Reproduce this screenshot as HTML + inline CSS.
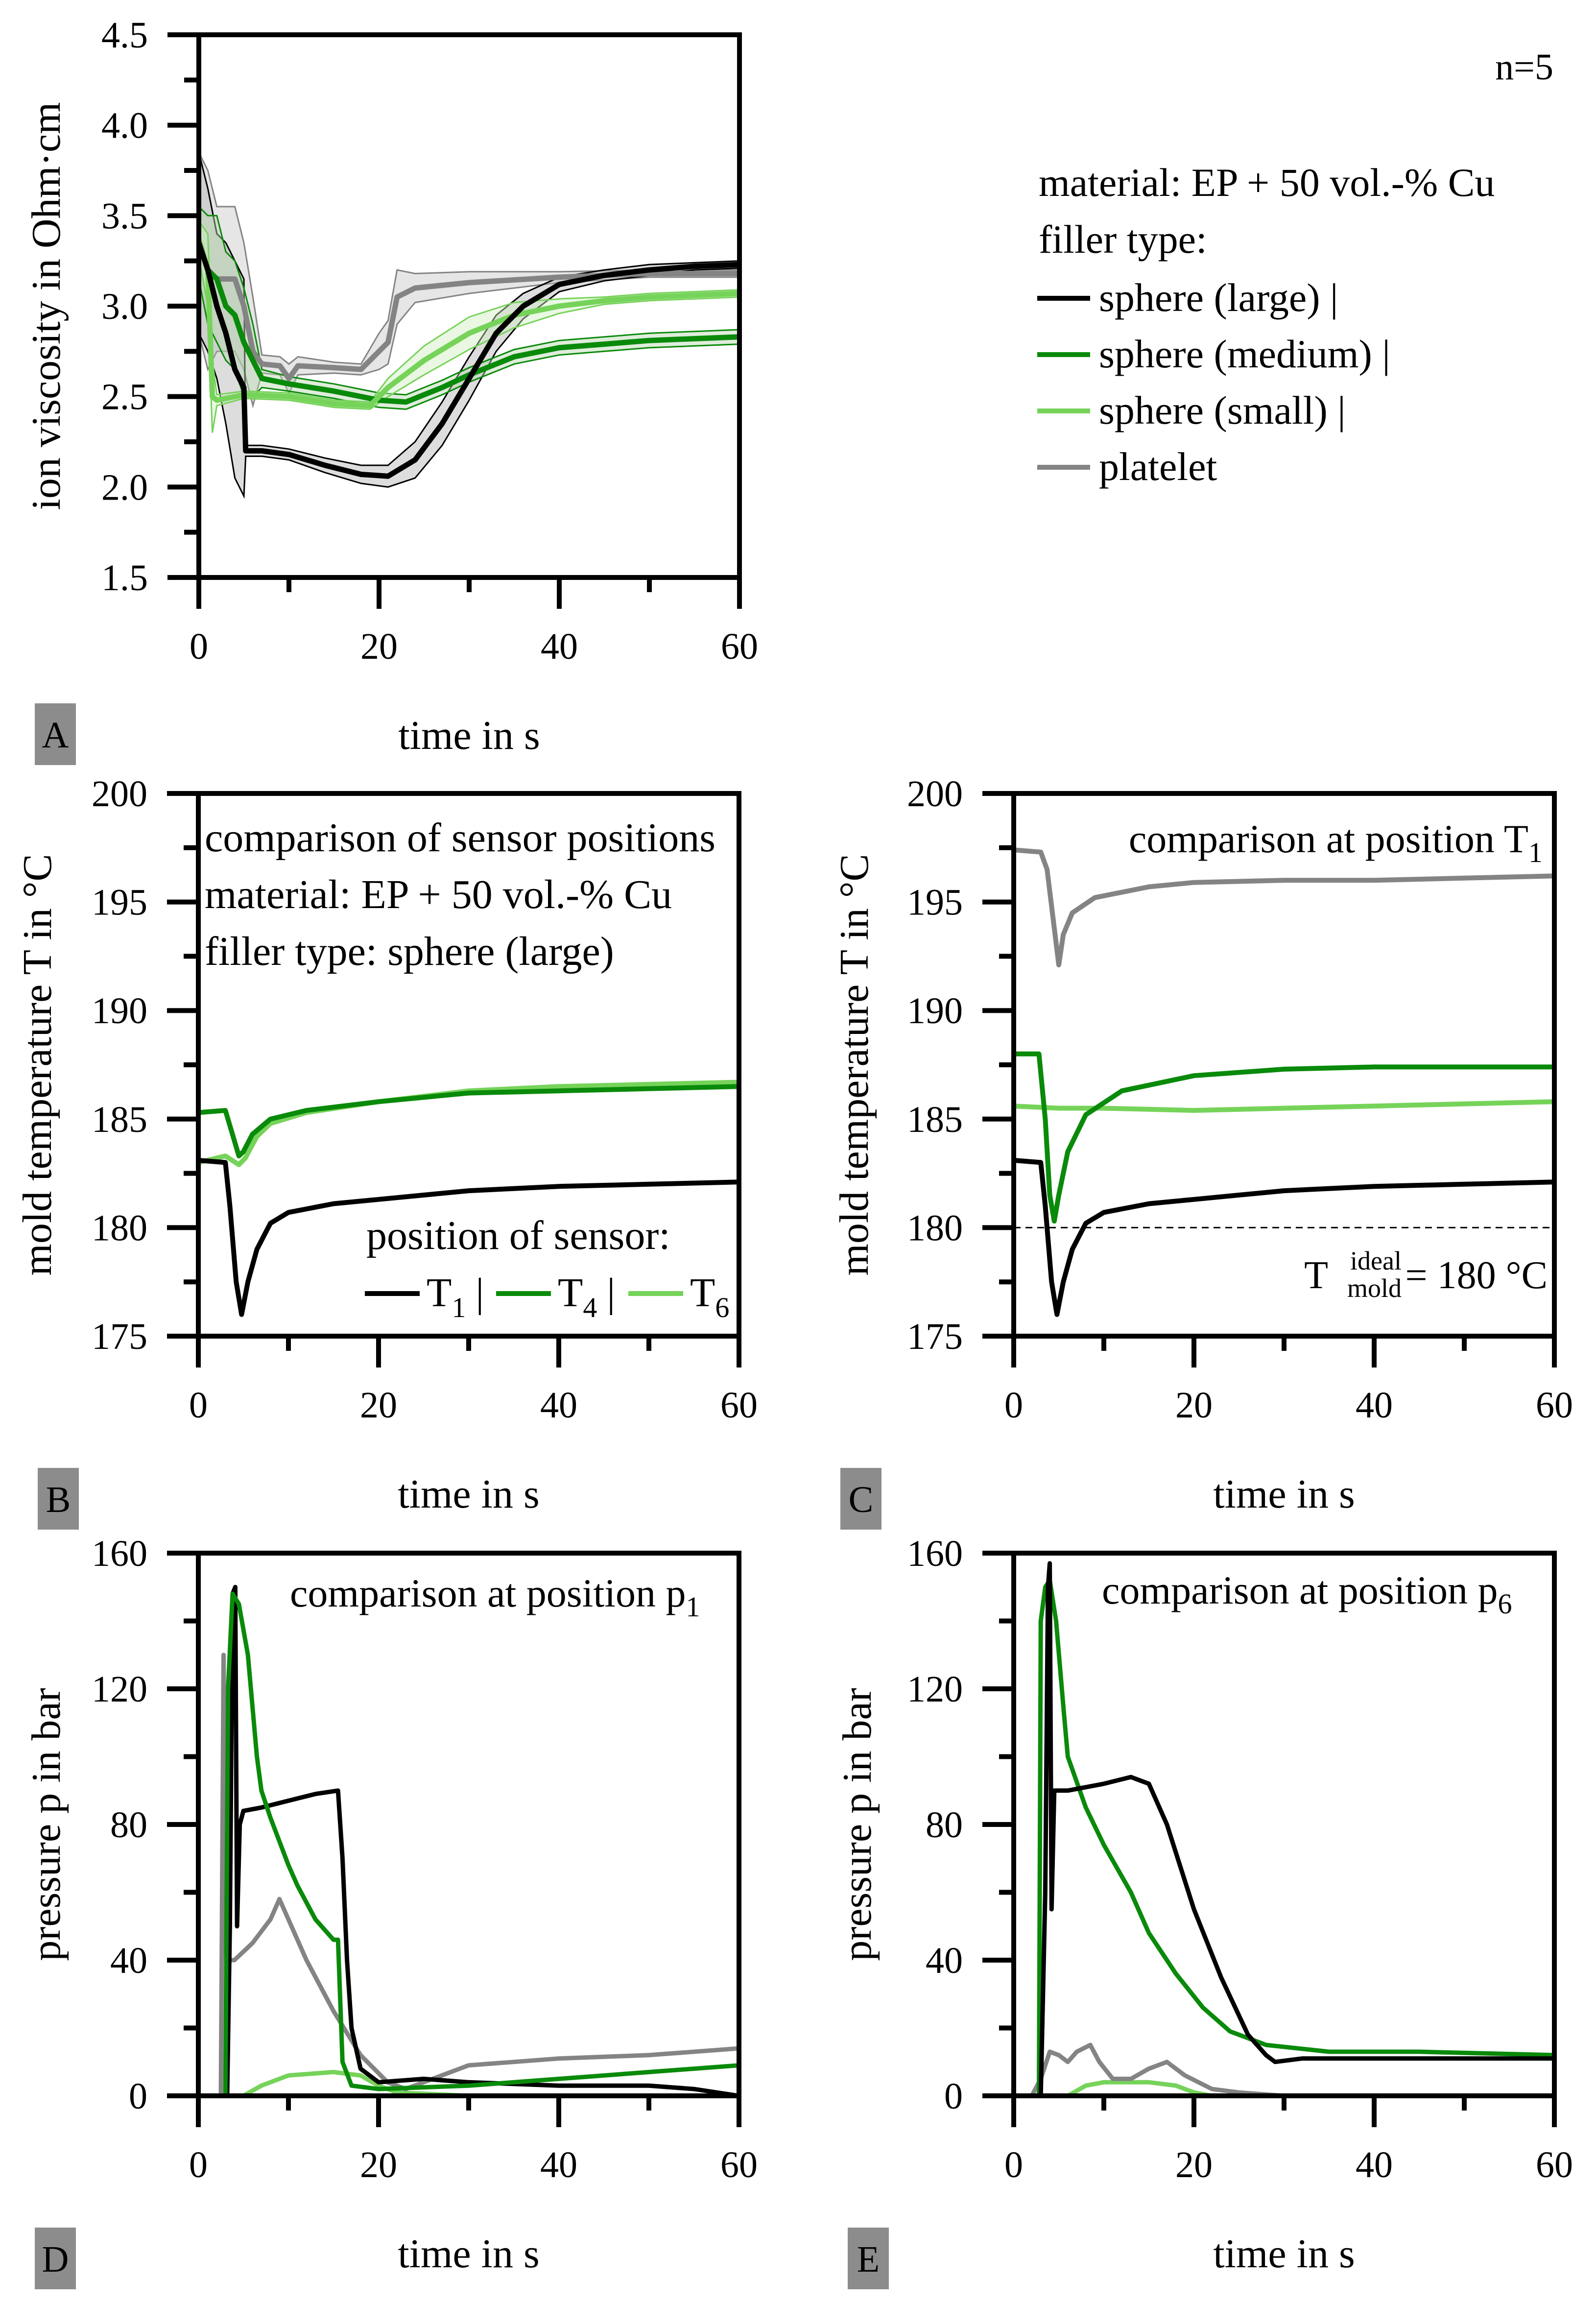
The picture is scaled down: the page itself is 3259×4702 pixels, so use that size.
<!DOCTYPE html>
<html><head><meta charset="utf-8"><style>
html,body{margin:0;padding:0;background:#fff}
svg{display:block}
text{font-family:"Liberation Serif",serif;fill:#000}
</style></head><body>
<svg id="fig" width="3259" height="4702" viewBox="0 0 3259 4702" xmlns="http://www.w3.org/2000/svg"></svg>
<script>
// ---- Panel A data (ion viscosity) ----
const aLarge=[[0,3.35],[1,3.2],[2,3.0],[3,2.85],[4,2.65],[5,2.55],[5.2,2.2],[7,2.2],[10,2.18],[14,2.12],[18,2.07],[21,2.06],[24,2.15],[27,2.35],[30,2.6],[33,2.85],[36,3.0],[40,3.12],[45,3.17],[50,3.2],[55,3.22],[60,3.23]];
const aMedium=[[0,3.35],[1,3.2],[2,3.15],[3,3.0],[4,2.95],[5,2.8],[6,2.7],[7,2.6],[10,2.57],[15,2.53],[20,2.48],[23,2.47],[27,2.55],[30,2.62],[35,2.72],[40,2.77],[45,2.79],[50,2.81],[55,2.82],[60,2.83]];
const aSmall=[[0,3.37],[1,3.2],[1.5,2.5],[2,2.48],[5,2.51],[10,2.5],[15,2.46],[19,2.45],[21,2.55],[25,2.7],[30,2.85],[35,2.95],[40,3.0],[45,3.03],[50,3.05],[55,3.06],[60,3.07]];
const aPlatelet=[[0,3.35],[1,3.2],[2,3.15],[4,3.15],[5,3.0],[6,2.75],[7,2.68],[9,2.67],[10,2.6],[11,2.67],[15,2.66],[18,2.65],[20,2.75],[21,2.8],[22,3.05],[24,3.1],[30,3.13],[40,3.16],[50,3.18],[60,3.18]];
const aLargeBand=[0.5,0.45,0.4,0.5,0.6,0.6,0.03,0.03,0.03,0.04,0.05,0.06,0.1,0.12,0.12,0.1,0.07,0.04,0.03,0.03,0.02,0.02];
const aMediumBand=[0.2,0.3,0.35,0.3,0.3,0.3,0.2,0.05,0.04,0.04,0.04,0.04,0.04,0.04,0.04,0.04,0.04,0.04,0.04,0.04];
const aSmallBand=[0.1,0.2,0.2,0.03,0.02,0.02,0.02,0.02,0.05,0.08,0.09,0.07,0.04,0.02,0.02,0.02,0.02];
const aPlateletBand=[0.5,0.55,0.4,0.4,0.35,0.3,0.05,0.05,0.08,0.05,0.03,0.03,0.1,0.12,0.15,0.08,0.06,0.03,0.02,0.02];
// ---- Panel B data (sensor positions) ----
const bT1=[[0,183.1],[3,183],[3.5,181],[4.2,177.5],[4.8,176],[5.5,177.5],[6.5,179],[8,180.2],[10,180.7],[15,181.1],[20,181.3],[30,181.7],[40,181.9],[50,182],[60,182.1]];
const bT4=[[0,185.3],[3,185.4],[4.5,183.3],[5,183.5],[6,184.3],[8,185],[12,185.4],[20,185.8],[30,186.2],[40,186.3],[50,186.4],[60,186.5]];
const bT6=[[0,183],[3,183.3],[4.5,182.9],[5.2,183.2],[6.5,184.2],[8,184.8],[12,185.3],[20,185.8],[30,186.3],[40,186.5],[50,186.6],[60,186.7]];
// ---- Panel C data (position T1) ----
const cPlatelet=[[0,197.4],[3,197.3],[3.7,196.5],[4.5,193.8],[5,192.1],[5.5,193.5],[6.5,194.5],[9,195.2],[15,195.7],[20,195.9],[30,196],[40,196],[50,196.1],[60,196.2]];
const cMedium=[[0,188],[2.8,188],[3.5,185],[4,181.5],[4.5,180.3],[5,181.5],[6,183.5],[8,185.2],[12,186.3],[20,187],[30,187.3],[40,187.4],[60,187.4]];
const cSmall=[[0,185.6],[5,185.5],[10,185.5],[20,185.4],[30,185.5],[40,185.6],[50,185.7],[60,185.8]];
const cLarge=bT1;
const cIdeal=180;
// ---- Panel D data (pressure p1) ----
const dLarge=[[0,0],[3.2,0],[3.5,50],[3.8,148],[4.1,150],[4.3,50],[4.6,80],[5,84],[7,85],[10,87],[13,89],[15.5,90],[16,70],[16.5,40],[17,20],[18,8],[20,4],[25,5],[30,4],[40,3],[50,3],[55,2],[60,0]];
const dMedium=[[0,0],[3,0],[3.3,120],[3.8,148],[4.5,145],[5.5,130],[6.5,100],[7,90],[8,82],[9,75],[10,68],[11,62],[13,52],[15,46],[15.5,46],[16,10],[17,3],[20,2],[30,3],[40,5],[50,7],[60,9]];
const dSmall=[[0,0],[5,0],[7,3],[10,6],[15,7],[18,6],[20,3],[22,1],[30,0],[60,0]];
const dPlatelet=[[0,0],[2.5,0],[2.8,130],[3.1,40],[4,40],[6,45],[8,52],[9,58],[10,52],[12,40],[15,25],[18,12],[21,4],[23,2],[25,4],[30,9],[35,10],[40,11],[50,12],[60,14]];
// ---- Panel E data (pressure p6) ----
const eLarge=[[0,0],[3,0],[3.5,60],[3.8,150],[4,157],[4.2,55],[4.5,90],[6,90],[10,92],[13,94],[15,92],[17,80],[20,55],[23,35],[26,18],[28,12],[29,10],[32,11],[40,11],[50,11],[60,11]];
const eMedium=[[0,0],[2.8,0],[3,140],[3.5,150],[4,152],[4.7,140],[5.5,115],[6,100],[8,85],[10,74],[13,60],[15,48],[18,36],[21,26],[24,19],[28,15],[35,13],[45,13],[60,12]];
const eSmall=[[0,0],[6,0],[8,3],[10,4],[15,4],[18,3],[20,1],[22,0],[60,0]];
const ePlatelet=[[0,0],[2,0],[3,5],[4,13],[5,12],[6,10],[7,13],[8.5,15],[9.5,10],[11,5],[13,5],[15,8],[17,10],[19,6],[22,2],[25,1],[30,0],[60,0]];
// tick labels
const xTicks=[0,20,40,60];
const aYTicks=["1.5","2.0","2.5","3.0","3.5","4.0","4.5"];
const tYTicks=[175,180,185,190,195,200];
const pYTicks=[0,40,80,120,160];

const NS="http://www.w3.org/2000/svg";
const svg=document.getElementById('fig');
function mk(tag,attrs,parent){const e=document.createElementNS(NS,tag);for(const k in attrs)e.setAttribute(k,attrs[k]);(parent||svg).appendChild(e);return e;}
function txt(s,x,y,size,anchor,parent){const t=mk('text',{x:x,y:y,'font-size':size,'text-anchor':anchor||'start'},parent);t.textContent=s;return t;}
const BLACK='#000',MED='#0a8a0a',LIGHT='#76d35a',GREY='#848484';

function panel(name,x0,y0,ymin,ymax,yMajor,yMinor,yLabels,yTitle,letter,letterX,letterY,titleX){
  const g=mk('g',{});
  
  
  const W=1104,H=1108;
  const P={x0:x0,y0:y0,W:W,H:H,g:g,
    sx:v=>x0+v/60*W, sy:v=>y0+H-(v-ymin)/(ymax-ymin)*H};
  for(let v=ymin;v<=ymax+1e-9;v+=yMinor){const y=P.sy(v);const maj=Math.abs((v-ymin)/yMajor-Math.round((v-ymin)/yMajor))<1e-6;
    const t=mk('line',{x1:x0-(maj?64:30),x2:x0,y1:y,y2:y,stroke:'#000','stroke-width':10},g);
    }
  for(let v=0;v<=60;v+=10){const x=P.sx(v);const maj=v%20===0;
    const t=mk('line',{x1:x,x2:x,y1:y0+H,y2:y0+H+(maj?64:30),stroke:'#000','stroke-width':10},g);
    }
  yLabels.forEach((l,i)=>{const v=ymin+i*yMajor;const t=txt(String(l),x0-104,P.sy(v)+26,76,'end',g);
    });
  xTicks.forEach(v=>{const t=txt(String(v),P.sx(v),y0+H+166,76,'middle',g);
    });
  const xt=txt('time in s',x0+W/2,y0+H+350,84,'middle',g);
  
  const yt=txt(yTitle,0,0,84,'middle',g);
  yt.setAttribute('transform',`translate(${titleX+8},${y0+H/2}) rotate(-90)`);
  
  const lb=mk('rect',{x:letterX,y:letterY,width:84,height:126,fill:'#8c8c8c'},g);
  
  const lt=txt(letter,letterX+42,letterY+90,76,'middle',g);
  
  P.clip='c'+name;
  const cp=mk('clipPath',{id:P.clip},g);mk('rect',{x:x0,y:y0,width:W,height:H},cp);
  P.plot=mk('g',{'clip-path':`url(#${P.clip})`},g);
  
  return P;
}
function frame(P){const r=mk('rect',{x:P.x0,y:P.y0,width:P.W,height:P.H,fill:'none',stroke:'#000','stroke-width':10},P.g);
  }
function line(P,data,color,w,name){const d=data.map((p,i)=>(i?'L':'M')+P.sx(p[0]).toFixed(1)+','+P.sy(p[1]).toFixed(1)).join('');
  const e=mk('path',{d:d,fill:'none',stroke:color,'stroke-width':w,'stroke-linejoin':'round'},P.plot);
  return e;}
function band(P,data,bw,fill,stroke,name){
  const up=data.map((p,i)=>[p[0],p[1]+bw[i]]),lo=data.map((p,i)=>[p[0],p[1]-bw[i]]).reverse();
  const d=up.concat(lo).map((p,i)=>(i?'L':'M')+P.sx(p[0]).toFixed(1)+','+P.sy(p[1]).toFixed(1)).join('')+'Z';
  const e=mk('path',{d:d,fill:fill,'fill-opacity':0.45,stroke:stroke,'stroke-width':3},P.plot);
  }

// Panel A
const A=panel('panel-a',406,71,1.5,4.5,0.5,0.25,aYTicks,'ion viscosity in Ohm·cm','A',71,1436,114);
band(A,aPlatelet,aPlateletBand,'#c8c8c8',GREY,'band-platelet');
band(A,aLarge,aLargeBand,'#b4b4b4',BLACK,'band-sphere-large');
band(A,aMedium,aMediumBand,'#b8d8b0',MED,'band-sphere-medium');
band(A,aSmall,aSmallBand,'#d0f0c0',LIGHT,'band-sphere-small');
line(A,aPlatelet,GREY,11,'line-platelet');
line(A,aMedium,MED,11,'line-sphere-medium');
line(A,aSmall,LIGHT,11,'line-sphere-small');
line(A,aLarge,BLACK,11,'line-sphere-large');
frame(A);
(function(){const g=mk('g',{});
  let t=txt('n=5',3172,162,76,'end',g);
  t=txt('material: EP + 50 vol.-% Cu',2121,400,82,'start',g);
  t=txt('filler type:',2121,516,82,'start',g);
  const items=[['sphere (large)  |',BLACK],['sphere (medium)  |',MED],['sphere (small)  |',LIGHT],['platelet',GREY]];
  items.forEach((it,i)=>{const y=609+i*115;
    const l=mk('line',{x1:2118,x2:2226,y1:y,y2:y,stroke:it[1],'stroke-width':10},g);
    const tt=txt(it[0],2244,y+26,82,'start',g);});
})();

// Panel B
const B=panel('panel-b',405,1620,175,200,5,2.5,tYTicks,'mold temperature T in °C','B',77,2997,96);
line(B,bT6,LIGHT,10,'line-t6');line(B,bT4,MED,10,'line-t4');line(B,bT1,BLACK,10,'line-t1');
frame(B);
(function(){const g=B.g;
  ['comparison of sensor positions','material: EP + 50 vol.-% Cu','filler type: sphere (large)'].forEach((s,i)=>{const t=txt(s,418,1738+i*116,84,'start',g);});
  let t=txt('position of sensor:',748,2550,84,'start',g);
  const it=[['T','1',BLACK,745],['T','4',MED,1013],['T','6',LIGHT,1283]];
  it.forEach((e,i)=>{const l=mk('line',{x1:e[3],x2:e[3]+112,y1:2641,y2:2641,stroke:e[2],'stroke-width':10},g);
    const tt=txt('',e[3]+126,2667,84,'start',g);
    const a=mk('tspan',{},tt);a.textContent=e[0];const b=mk('tspan',{dy:22,'font-size':58},tt);b.textContent=e[1];
    if(i<2){const p=mk('tspan',{dy:-22,'font-size':84,dx:20},tt);p.textContent='|';}
  });
})();

// Panel C
const C=panel('panel-c',2070,1620,175,200,5,2.5,tYTicks,'mold temperature T in °C','C',1716,2997,1764);
const dl=mk('line',{x1:C.sx(0),x2:C.sx(60),y1:C.sy(cIdeal),y2:C.sy(cIdeal),stroke:'#000','stroke-width':3,'stroke-dasharray':'14 10'},C.plot);

line(C,cSmall,LIGHT,10,'line-sphere-small');line(C,cMedium,MED,10,'line-sphere-medium');line(C,cPlatelet,GREY,10,'line-platelet');line(C,cLarge,BLACK,10,'line-sphere-large');
frame(C);
(function(){const g=C.g;
  let t=txt('',3150,1740,82,'end',g);
  let a=mk('tspan',{},t);a.textContent='comparison at position T';a=mk('tspan',{dy:20,'font-size':58},t);a.textContent='1';
  t=txt('T',2712,2630,80,'end',g);
  t=txt('ideal',2862,2592,54,'end',g);
  t=txt('mold',2862,2648,54,'end',g);
  t=txt('= 180 °C',3160,2630,80,'end',g);
})();

// Panel D
const D=panel('panel-d',405,3171,0,160,40,20,pYTicks,'pressure p in bar','D',71,4548,114);
line(D,dSmall,LIGHT,9,'line-sphere-small');line(D,dPlatelet,GREY,9,'line-platelet');line(D,dLarge,BLACK,9,'line-sphere-large');line(D,dMedium,MED,9,'line-sphere-medium');
frame(D);
(function(){let t=txt('',592,3280,82,'start',D.g);
  let a=mk('tspan',{},t);a.textContent='comparison at position p';a=mk('tspan',{dy:20,'font-size':58},t);a.textContent='1';})();

// Panel E
const E=panel('panel-e',2070,3171,0,160,40,20,pYTicks,'pressure p in bar','E',1731,4548,1770);
line(E,eSmall,LIGHT,9,'line-sphere-small');line(E,ePlatelet,GREY,9,'line-platelet');line(E,eMedium,MED,9,'line-sphere-medium');line(E,eLarge,BLACK,9,'line-sphere-large');
frame(E);
(function(){let t=txt('',2250,3274,82,'start',E.g);
  let a=mk('tspan',{},t);a.textContent='comparison at position p';a=mk('tspan',{dy:20,'font-size':58},t);a.textContent='6';})();
</script>
</body></html>
